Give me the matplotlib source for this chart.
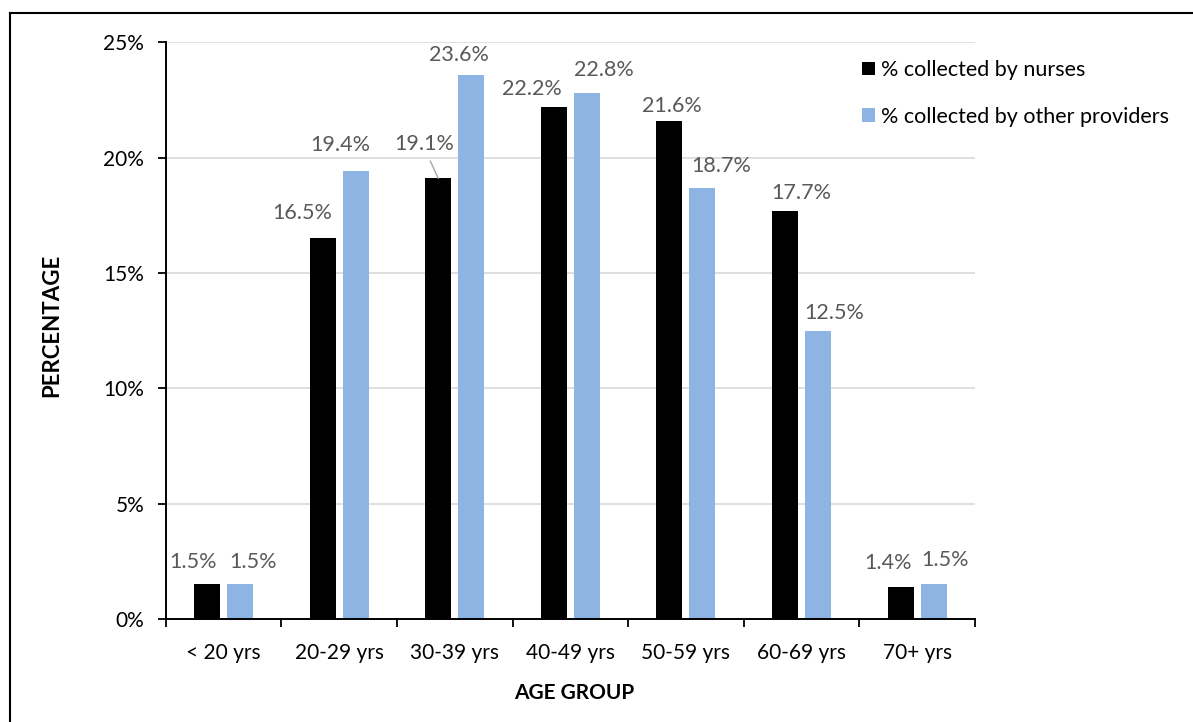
import matplotlib
matplotlib.use("Agg")
import matplotlib.pyplot as plt
import numpy as np
from matplotlib.patches import Patch
from matplotlib.lines import Line2D
from matplotlib.ticker import FixedLocator, PercentFormatter

plt.rcParams['font.family'] = ['Lato', 'DejaVu Sans']

# Age groups and share of samples collected (%)
categories = ['< 20 yrs', '20-29 yrs', '30-39 yrs', '40-49 yrs',
              '50-59 yrs', '60-69 yrs', '70+ yrs']
nurses = [1.5, 16.5, 19.1, 22.2, 21.6, 17.7, 1.4]
others = [1.5, 19.4, 23.6, 22.8, 18.7, 12.5, 1.5]
series_names = ['% collected by nurses', '% collected by other providers']

# Label nudges (pixels: dx, dy above bar top)
nurse_label_offsets = [(-14, 22), (-20, 25), (-14, 34), (-22, 18), (2, 15), (16, 18), (-13, 24)]
other_label_offsets = [(13, 22), (-15, 26), (-12, 20), (17, 23), (19, 22), (16, 18), (11, 24)]

BLACK = '#000000'
BLUE = '#8EB4E3'
LABEL_GREY = '#595959'

W, H = 1193, 722
fig = plt.figure(figsize=(W / 100, H / 100), dpi=100)
ax = fig.add_axes([165.7 / W, 1 - 619 / H, (975 - 165.7) / W, (619 - 42.3) / H])

x = np.arange(len(categories))
bw = 0.225
off = 0.1425
b1 = ax.bar(x - off, nurses, bw, color=BLACK, zorder=3)
b2 = ax.bar(x + off, others, bw, color=BLUE, zorder=3)

ax.set_xlim(-0.5, len(categories) - 0.5)
ax.set_ylim(0, 25)
ax.set_yticks(np.arange(0, 26, 5))
ax.yaxis.set_major_formatter(PercentFormatter(decimals=0))
ax.grid(axis='y', color='#d9d9d9', lw=1.2, zorder=0)

ax.set_xticks(x)
ax.set_xticklabels(categories)
ax.xaxis.set_minor_locator(FixedLocator(np.arange(-0.5, len(categories), 1.0)))
ax.tick_params(axis='x', which='major', length=0, pad=17, labelsize=15)
ax.tick_params(axis='x', which='minor', length=5.5, width=1.3, direction='out')
ax.tick_params(axis='y', length=5.5, width=1.3, direction='out', pad=10, labelsize=15)

for side in ('top', 'right'):
    ax.spines[side].set_visible(False)
for side in ('left', 'bottom'):
    ax.spines[side].set_linewidth(1.4)
    ax.spines[side].set_zorder(4)

ax.set_ylabel('PERCENTAGE', fontsize=16, fontweight='bold', va='center')
ax.yaxis.set_label_coords((52 - 165.7) / (975 - 165.7), 0.51)
ax.set_xlabel('AGE GROUP', fontsize=15, fontweight='bold', va='center')
ax.xaxis.set_label_coords((574 - 165.7) / (975 - 165.7), (619 - 693) / (619 - 42.3))

# Value labels
def put_labels(bars, values, offsets):
    for rect, v, (dx, dy) in zip(bars, values, offsets):
        cx = rect.get_x() + rect.get_width() / 2
        kw = {}
        if dy > 30:
            kw['arrowprops'] = dict(arrowstyle='-', color='#a6a6a6', lw=1.0,
                                    shrinkA=3, shrinkB=0, relpos=(0.55, 0))
        ax.annotate(f'{v:.1f}%', xy=(cx, v), xytext=(dx, dy),
                    textcoords='offset pixels', ha='center', va='center',
                    fontsize=15.5, color=LABEL_GREY, zorder=5, **kw)

put_labels(b1, nurses, nurse_label_offsets)
put_labels(b2, others, other_label_offsets)

handles = [Patch(facecolor=BLACK), Patch(facecolor=BLUE)]
fig.legend(handles, series_names, loc='upper left',
           bbox_to_anchor=(862 / W, 1 - 60 / H), frameon=False,
           fontsize=15.5, handlelength=0.6, handleheight=0.6,
           handletextpad=0.3, labelspacing=1.25, borderpad=0, borderaxespad=0)

# Outer frame
fig.add_artist(Line2D([10 / W, 10 / W], [0, 1 - 13 / H], transform=fig.transFigure,
                      color='black', lw=1.5))
fig.add_artist(Line2D([10 / W, 1], [1 - 13 / H, 1 - 13 / H], transform=fig.transFigure,
                      color='black', lw=1.5))

fig.savefig('out.png', dpi=100)
